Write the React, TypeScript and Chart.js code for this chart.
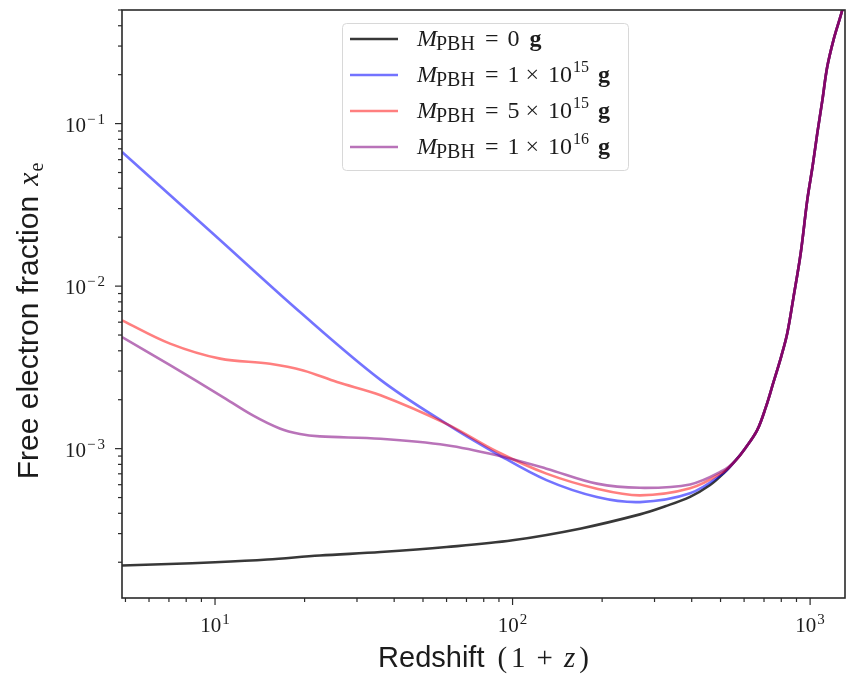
import React, { useEffect, useRef } from 'react';
import { Chart, registerables } from 'chart.js';

Chart.register(...registerables);

// ---------------- data ----------------
// Redshift (1+z) and free electron fraction x_e, before the curves merge
const zBlack = [4.87, 7, 10, 15, 22.5, 36, 60, 100, 170, 268, 326, 395, 460, 510];
const xeBlack = [1.91e-4, 1.95e-4, 2.0e-4, 2.08e-4, 2.2e-4, 2.31e-4, 2.48e-4, 2.73e-4, 3.23e-4, 3.94e-4, 4.42e-4, 5.05e-4, 5.95e-4, 7.0e-4];

const zBlue = [4.87, 10, 19.3, 36, 60, 88.5, 130, 192, 268, 395, 510];
const xeBlue = [0.0668, 0.0205, 6.93e-3, 2.65e-3, 1.42e-3, 9.3e-4, 6.4e-4, 5.04e-4, 4.69e-4, 5.31e-4, 7.05e-4];

const zRed = [4.87, 7.06, 10.4, 15.3, 19.8, 25.7, 36, 60, 88.5, 130, 192, 268, 395, 510];
const xeRed = [6.16e-3, 4.43e-3, 3.58e-3, 3.33e-3, 3.03e-3, 2.57e-3, 2.13e-3, 1.42e-3, 9.6e-4, 7.02e-4, 5.67e-4, 5.16e-4, 5.7e-4, 7.18e-4];

const zPurple = [4.87, 7.06, 10.4, 13.4, 16.5, 19.3, 22.5, 36, 60, 88.5, 130, 192, 268, 395, 510];
const xePurple = [4.86e-3, 3.26e-3, 2.13e-3, 1.6e-3, 1.33e-3, 1.23e-3, 1.19e-3, 1.15e-3, 1.05e-3, 9.1e-4, 7.53e-4, 6.09e-4, 5.74e-4, 6.02e-4, 7.34e-4];

// common recombination tail shared by all four curves
const zTail = [560, 604, 664, 710, 751, 800, 838, 878, 930, 978, 1020, 1057, 1100, 1141, 1200, 1282, 1350];
const xeTail = [8.4e-4, 1.0e-3, 1.3e-3, 1.8e-3, 2.52e-3, 3.7e-3, 5.13e-3, 8.4e-3, 1.6e-2, 3.37e-2, 5.5e-2, 8.7e-2, 0.14, 0.222, 0.33, 0.498, 0.75];

// legend text pieces: M_PBH = mantissa x 10^exponent g
const seriesMantissa = ['0', '1', '5', '1'];
const seriesExponent = ['', '15', '15', '16'];
const seriesColors = ['rgba(0,0,0,0.78)', 'rgba(0,0,255,0.55)', 'rgba(255,0,0,0.5)', 'rgba(128,0,128,0.55)'];

// tick labels
const xMajorTicks = [10, 100, 1000];
const xMajorExp = ['1', '2', '3'];
const yMajorTicks = [0.1, 0.01, 0.001];
const yMajorExp = ['\u22121', '\u22122', '\u22123'];

const X_MIN = 4.868;
const X_MAX = 1310;
const Y_MIN = 1.205e-4;
const Y_MAX = 0.5;

const xDecades = [1, 10, 100, 1000];
const yDecades = [1e-4, 1e-3, 1e-2, 1e-1];

function toPoints(xs: number[], ys: number[]) {
  return xs.map((x, i) => ({ x, y: ys[i] }));
}

const SERIF = '"Liberation Serif", "DejaVu Serif", serif';
const SANS = '"Liberation Sans", Arial, sans-serif';
const INK = '#1c1c1c';

function drawPow(ctx: CanvasRenderingContext2D, x: number, baseline: number, exp: string, align: 'center' | 'right', baseSize: number, supSize: number) {
  ctx.font = `${baseSize}px ${SERIF}`;
  const wb = ctx.measureText('10').width;
  ctx.font = `${supSize}px ${SERIF}`;
  const ws = ctx.measureText(exp).width + (exp.length > 1 && exp[0] === '\u2212' ? 2 : 0);
  const total = wb + 1 + ws;
  const start = align === 'center' ? x - total / 2 : x - total;
  ctx.textAlign = 'left';
  ctx.textBaseline = 'alphabetic';
  ctx.font = `${baseSize}px ${SERIF}`;
  ctx.fillText('10', start, baseline);
  ctx.font = `${supSize}px ${SERIF}`;
  let sx = start + wb + 1;
  if (exp[0] === '\u2212') {
    ctx.fillText('\u2212', sx, baseline - 8);
    sx += ctx.measureText('\u2212').width + 2;
    ctx.fillText(exp.slice(1), sx, baseline - 8);
  } else {
    ctx.fillText(exp, sx, baseline - 8);
  }
}

const decorPlugin = {
  id: 'decor',
  afterDraw(chart: any) {
    const { ctx, chartArea: a, scales } = chart;
    const xs = scales.x;
    const ys = scales.y;
    ctx.save();

    // frame
    ctx.strokeStyle = '#2a2a2a';
    ctx.lineWidth = 1.6;
    ctx.strokeRect(a.left, a.top, a.right - a.left, a.bottom - a.top);

    // tick marks
    ctx.lineWidth = 1.2;
    for (const d of xDecades) {
      for (let m = 1; m <= 9; m++) {
        const v = m * d;
        const p = xs.getPixelForValue(v);
        if (p < a.left - 0.5 || p > a.right + 0.5) continue;
        const len = m === 1 ? 7 : 4;
        ctx.beginPath();
        ctx.moveTo(p, a.bottom);
        ctx.lineTo(p, a.bottom + len);
        ctx.stroke();
      }
    }
    for (const d of yDecades) {
      for (let m = 1; m <= 9; m++) {
        const v = m * d;
        const p = ys.getPixelForValue(v);
        if (p < a.top - 0.5 || p > a.bottom + 0.5) continue;
        const len = m === 1 ? 7 : 4;
        ctx.beginPath();
        ctx.moveTo(a.left, p);
        ctx.lineTo(a.left - len, p);
        ctx.stroke();
      }
    }

    // tick labels
    ctx.fillStyle = INK;
    xMajorTicks.forEach((v, i) => {
      const p = xs.getPixelForValue(v);
      drawPow(ctx, p, a.bottom + 34, xMajorExp[i], 'center', 21, 15);
    });
    yMajorTicks.forEach((v, i) => {
      const p = ys.getPixelForValue(v);
      drawPow(ctx, a.left - 17, p + 8, yMajorExp[i], 'right', 21, 15);
    });

    // x title
    const cx = (a.left + a.right) / 2;
    const tSize = 29;
    ctx.font = `${tSize}px ${SANS}`;
    const wRed = ctx.measureText('Redshift').width;
    ctx.font = `${tSize}px ${SERIF}`;
    const wOpen = ctx.measureText('(').width;
    const wOne = ctx.measureText('1').width;
    const wPlus = ctx.measureText('+').width;
    ctx.font = `italic ${tSize}px ${SERIF}`;
    const wZ = ctx.measureText('z').width;
    const gapA = 13, gapB = 4, gapC = 11;
    const totalX = wRed + gapA + wOpen + gapB + wOne + gapC + wPlus + gapC + wZ + gapB + wOpen;
    let tx = cx - totalX / 2;
    const tb = 667;
    ctx.textAlign = 'left';
    ctx.textBaseline = 'alphabetic';
    ctx.font = `${tSize}px ${SANS}`;
    ctx.fillText('Redshift', tx, tb);
    tx += wRed + gapA;
    ctx.font = `${tSize}px ${SERIF}`;
    ctx.fillText('(', tx, tb); tx += wOpen + gapB;
    ctx.fillText('1', tx, tb); tx += wOne + gapC;
    ctx.fillText('+', tx, tb); tx += wPlus + gapC;
    ctx.font = `italic ${tSize}px ${SERIF}`;
    ctx.fillText('z', tx, tb); tx += wZ + gapB;
    ctx.font = `${tSize}px ${SERIF}`;
    ctx.fillText(')', tx, tb);

    // y title (rotated)
    const ySize = 30;
    ctx.save();
    ctx.translate(38, 321);
    ctx.rotate(-Math.PI / 2);
    ctx.font = `${ySize}px ${SANS}`;
    const wFree = ctx.measureText('Free electron fraction').width;
    ctx.font = `italic ${ySize}px ${SERIF}`;
    const wx = ctx.measureText('x').width;
    ctx.font = `${20}px ${SERIF}`;
    const we = ctx.measureText('e').width;
    const totalY = wFree + 10 + wx + 1 + we;
    let ry = -totalY / 2;
    ctx.font = `${ySize}px ${SANS}`;
    ctx.fillText('Free electron fraction', ry, 0);
    ry += wFree + 10;
    ctx.font = `italic ${ySize}px ${SERIF}`;
    ctx.fillText('x', ry, 0);
    ry += wx + 1;
    ctx.font = `${20}px ${SERIF}`;
    ctx.fillText('e', ry, 5);
    ctx.restore();

    // legend
    const lx0 = 342.5, ly0 = 23.5, lw = 286, lh = 147;
    ctx.beginPath();
    ctx.roundRect(lx0, ly0, lw, lh, 4);
    ctx.fillStyle = 'rgba(255,255,255,0.85)';
    ctx.fill();
    ctx.strokeStyle = '#d8d8d8';
    ctx.lineWidth = 1;
    ctx.stroke();

    const datasets = chart.data.datasets;
    for (let i = 0; i < 4; i++) {
      const rowY = 39 + i * 36;
      ctx.strokeStyle = datasets[i].borderColor;
      ctx.lineWidth = 2.6;
      ctx.beginPath();
      ctx.moveTo(350, rowY);
      ctx.lineTo(398, rowY);
      ctx.stroke();

      ctx.fillStyle = INK;
      let x = 417;
      const bl = rowY + 7;
      ctx.font = `italic 24px ${SERIF}`;
      ctx.fillText('M', x, bl);
      x += ctx.measureText('M').width - 1;
      ctx.font = `20px ${SERIF}`;
      ctx.fillText('PBH', x, bl + 4);
      x += ctx.measureText('PBH').width + 10;
      ctx.font = `24px ${SERIF}`;
      ctx.fillText('=', x, bl);
      x += ctx.measureText('=').width + 9;
      ctx.fillText(seriesMantissa[i], x, bl);
      x += ctx.measureText(seriesMantissa[i]).width;
      if (seriesExponent[i]) {
        x += 6;
        ctx.fillText('\u00d7', x, bl);
        x += ctx.measureText('\u00d7').width + 9;
        ctx.fillText('10', x, bl);
        x += ctx.measureText('10').width + 1;
        ctx.font = `16px ${SERIF}`;
        ctx.fillText(seriesExponent[i], x, bl - 10);
        x += ctx.measureText(seriesExponent[i]).width + 9;
      } else {
        x += 10;
      }
      ctx.font = `bold 24px ${SERIF}`;
      ctx.fillText('g', x, bl);
    }

    ctx.restore();
  },
};

export default function App() {
  const ref = useRef<HTMLCanvasElement | null>(null);

  useEffect(() => {
    const canvas = ref.current;
    if (!canvas) return;
    const mk = (label: string, xs: number[], ys: number[], color: string, order: number) => ({
      label,
      data: toPoints(xs.concat(zTail), ys.concat(xeTail)),
      borderColor: color,
      backgroundColor: color,
      borderWidth: 2.6,
      pointRadius: 0,
      fill: false,
      tension: 0.35,
      order,
    });
    const chart = new Chart(canvas, {
      type: 'line',
      data: {
        datasets: [
          mk('M_PBH = 0 g', zBlack, xeBlack, seriesColors[0], 3),
          mk('M_PBH = 1e15 g', zBlue, xeBlue, seriesColors[1], 2),
          mk('M_PBH = 5e15 g', zRed, xeRed, seriesColors[2], 1),
          mk('M_PBH = 1e16 g', zPurple, xePurple, seriesColors[3], 0),
        ],
      },
      options: {
        animation: false,
        responsive: false,
        devicePixelRatio: 1,
        layout: { padding: { top: 10, right: 1, left: 0, bottom: 0 } },
        plugins: { legend: { display: false }, tooltip: { enabled: false } },
        scales: {
          x: {
            type: 'logarithmic',
            min: X_MIN,
            max: X_MAX,
            grid: { display: false },
            border: { display: false },
            ticks: { display: false },
            afterFit: (s: any) => { s.height = 83; },
          },
          y: {
            type: 'logarithmic',
            min: Y_MIN,
            max: Y_MAX,
            grid: { display: false },
            border: { display: false },
            ticks: { display: false },
            afterFit: (s: any) => { s.width = 122; },
          },
        },
      } as any,
      plugins: [decorPlugin as any],
    });
    return () => chart.destroy();
  }, []);

  return (
    <div style={{ position: 'absolute', left: 0, top: 0, width: 846, height: 681, background: '#fff' }}>
      <canvas ref={ref} width={846} height={681} style={{ display: 'block' }} />
    </div>
  );
}
